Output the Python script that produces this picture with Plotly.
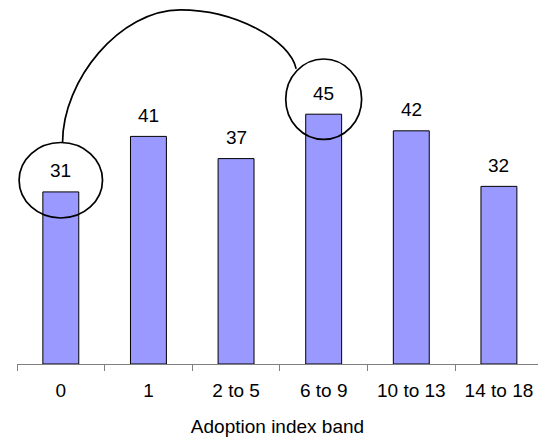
import plotly.graph_objects as go

# Adoption index bands and the share in each band
categories = ["0", "1", "2 to 5", "6 to 9", "10 to 13", "14 to 18"]
values = [31, 41, 37, 45, 42, 32]
x_title = "Adoption index band"

# Bars singled out with a ring and joined by a connector arc
ring_a = 0
ring_b = 3

FONT = "Liberation Sans, Arial, sans-serif"
FS = 19

fig = go.Figure()
fig.add_trace(go.Bar(
    x=categories,
    y=values,
    marker=dict(color="#9999FF", line=dict(color="#000000", width=1)),
    width=0.41,
    hoverinfo="skip",
))

# value labels above each bar
for i, v in enumerate(values):
    fig.add_annotation(
        x=i, y=v, xref="x", yref="y",
        text=str(v), showarrow=False,
        yanchor="middle", yshift=21,
        font=dict(family=FONT, size=FS, color="#000000"),
    )

# rings around two highlighted labels (data units: category index, value)
ring_specs = [
    (ring_a, values[ring_a] + 2.1, 0.476, 6.8),
    (ring_b, values[ring_b] + 2.7, 0.433, 7.24),
]
for cx, cy, rx, ry in ring_specs:
    fig.add_shape(
        type="circle", xref="x", yref="y",
        x0=cx - rx, x1=cx + rx, y0=cy - ry, y1=cy + ry,
        line=dict(color="#000000", width=1.7),
        fillcolor="rgba(0,0,0,0)",
    )

# connector arc from the top of the first ring to the upper-left of the second
a_cx, a_cy, _, a_ry = ring_specs[0]
sx, sy = a_cx + 0.02, a_cy + a_ry
ex, ey = ring_b - 0.314, values[ring_b] + 8.15
peak_x, peak_y = 1.362, 63.8
path = (
    f"M {sx},{sy} "
    f"C {sx},{51.2} {0.678},{peak_y} {peak_x},{peak_y} "
    f"C {1.99},{peak_y} {2.617},{58.4} {ex},{ey}"
)
fig.add_shape(
    type="path", xref="x", yref="y", path=path,
    line=dict(color="#000000", width=1.7),
)

fig.update_layout(
    width=538, height=437,
    margin=dict(l=16.7, r=0, t=0, b=72.7),
    paper_bgcolor="#ffffff", plot_bgcolor="#ffffff",
    showlegend=False,
    bargap=0.59,
    font=dict(family=FONT, size=FS, color="#000000"),
    xaxis=dict(
        type="category",
        range=[-0.5, 5.446],
        showline=True, linecolor="#808080", linewidth=1,
        ticks="outside", tickson="boundaries", ticklen=6,
        tickcolor="#808080", tickwidth=1,
        ticklabelstandoff=9,
        showgrid=False, zeroline=False,
        tickfont=dict(family=FONT, size=FS, color="#000000"),
        title=dict(text=x_title, standoff=19,
                   font=dict(family=FONT, size=FS, color="#000000")),
    ),
    yaxis=dict(
        range=[0, 65.57],
        visible=False, showgrid=False, zeroline=False,
    ),
)

fig.write_html("out.html")
